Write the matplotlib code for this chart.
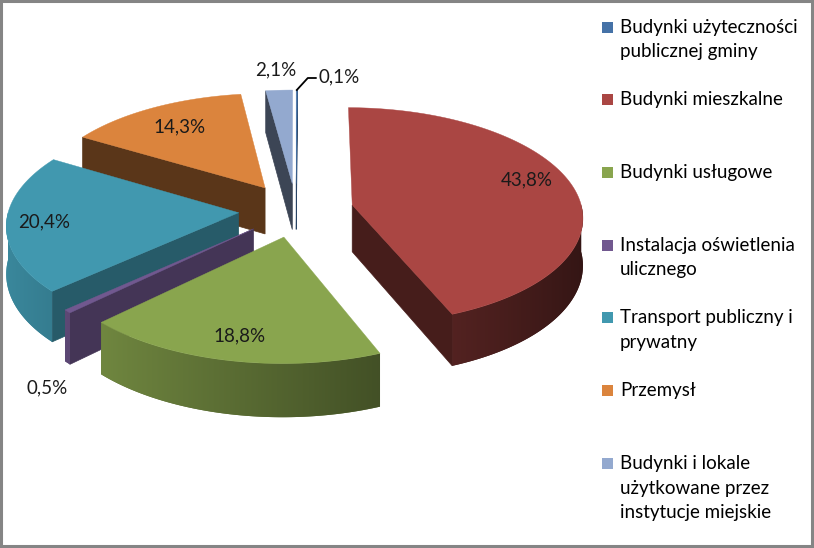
import numpy as np
import matplotlib
matplotlib.use('Agg')
import matplotlib.pyplot as plt
from matplotlib.patches import Polygon, Rectangle
from matplotlib.colors import to_rgb

categories = ['Budynki użyteczności\npublicznej gminy', 'Budynki mieszkalne', 'Budynki usługowe',
              'Instalacja oświetlenia\nulicznego', 'Transport publiczny i\nprywatny', 'Przemysł',
              'Budynki i lokale\nużytkowane przez\ninstytucje miejskie']
shares = [0.1, 43.8, 18.8, 0.5, 20.4, 14.3, 2.1]
pct_labels = ['0,1%', '43,8%', '18,8%', '0,5%', '20,4%', '14,3%', '2,1%']
colors = ['#4572A7', '#AA4643', '#89A54E', '#71588F', '#4198AF', '#DB843D', '#93A9CF']

# where each percentage label sits: radius along the slice middle, and height (0 top, -1 bottom)
lab_r = [1.0, 0.79, 0.82, 1.1, 0.84, 0.75, 1.25]
lab_z = [0, 0.2, 0, -1.3, 0, 0, 0]

plt.rcParams['font.family'] = ['Lato', 'DejaVu Sans']
fs = 13.5

# pseudo 3d view of the pie (pixels)
cx, cy = 296, 210
Rx, Ry, H = 230, 108, 47
persp = 0.1
explode = 0.25


def proj(X, Y, Z=0.0):
    p = 1.0 / (1.0 + persp * Y)
    return cx + Rx * X * p, cy - Ry * Y * p - H * Z * p


def shade(c, s):
    r, g, b = to_rgb(c)
    return (r * s, g * s, b * s)


def wall_light(deg):
    return np.clip(0.6 - 0.3 * np.sin(np.radians(deg)), 0.3, 0.95)


fig = plt.figure(figsize=(8.14, 5.48), dpi=100)
ax = fig.add_axes([0, 0, 1, 1])
ax.axis('off')

edges = np.concatenate([[0], np.cumsum(shares)]) / np.sum(shares) * 360
mids = (edges[:-1] + edges[1:]) / 2
offs = [(explode * np.sin(np.radians(m)), explode * np.cos(np.radians(m))) for m in mids]

z = 1
order = np.argsort(-np.cos(np.radians(mids)))
for i in order:
    a, b = edges[i], edges[i + 1]
    ox, oy = offs[i]
    c = colors[i]

    def rim(deg, zz=0.0):
        t = np.radians(deg)
        return proj(ox + np.sin(t), oy + np.cos(t), zz)

    # radial side walls
    for ang, nrm in ((a, a - 90), (b, b + 90)):
        if np.cos(np.radians(nrm)) < 0:
            s = 0.6 if np.sin(np.radians(nrm)) > 0 else 0.41
            pts = [proj(ox, oy, 0), rim(ang, 0), rim(ang, -1), proj(ox, oy, -1)]
            ax.add_patch(Polygon(pts, closed=True, fc=shade(c, s), ec=shade(c, s), lw=0.5, zorder=z))
            z += 1

    # outer wall, front half only, with a horizontal light gradient
    lo, hi = max(a, 90), min(b, 270)
    if hi > lo:
        ws = np.linspace(lo, hi, int(hi - lo) * 2 + 2)
        top = [rim(w, 0) for w in ws]
        bot = [rim(w, -1) for w in ws[::-1]]
        wall = Polygon(top + bot, closed=True, fc=shade(c, wall_light((lo + hi) / 2)), ec='none', zorder=z)
        ax.add_patch(wall)
        xr = np.array([p[0] for p in top])
        yall = np.array([p[1] for p in top + bot])
        gx = np.linspace(xr.min(), xr.max(), 300)
        gw = np.interp(gx, xr[::-1], ws[::-1])
        img = np.array([[shade(c, wall_light(w)) for w in gw]])
        im = ax.imshow(img, extent=(xr.min(), xr.max(), yall.max() + 1, yall.min() - 1),
                       aspect='auto', interpolation='bilinear', zorder=z + 0.5)
        im.set_clip_path(wall)
        z += 1

    # top face
    arc = np.linspace(a, b, max(3, int(b - a) * 2 + 2))
    pts = [proj(ox, oy)] + [rim(d) for d in arc]
    ax.add_patch(Polygon(pts, closed=True, fc=c, ec=c, lw=0.3, zorder=z))
    z += 1

# percentage labels
for i, txt in enumerate(pct_labels):
    t = np.radians(mids[i])
    ox, oy = offs[i]
    if i == 0:
        x0, y0 = proj(ox + np.sin(t), oy + np.cos(t))
        ax.plot([x0, x0 + 11, x0 + 19], [y0, y0 - 12, y0 - 12], color='black', lw=1.3, zorder=z)
        ax.text(x0 + 22, y0 - 13, txt, fontsize=fs, ha='left', va='center', color='#1a1a1a', zorder=z)
        continue
    x, y = proj(ox + lab_r[i] * np.sin(t), oy + lab_r[i] * np.cos(t), lab_z[i])
    ax.text(x, y, txt, fontsize=fs, ha='center', va='center', color='#1a1a1a', zorder=z)

# legend
for i, name in enumerate(categories):
    y = 27 + i * 72.7
    ax.add_patch(Rectangle((602, y - 5.5), 11, 11, fc=colors[i], ec='none', zorder=z))
    for k, line in enumerate(name.split('\n')):
        ax.text(620, y + k * 24.8, line, fontsize=fs, ha='left', va='center', color='black', zorder=z)

# chart border
ax.add_patch(Rectangle((1.2, 1.2), 811, 545, fc='none', ec='#858585', lw=2.2, zorder=z))

ax.set_xlim(0, 814)
ax.set_ylim(548, 0)
fig.savefig('out.png', dpi=100)
